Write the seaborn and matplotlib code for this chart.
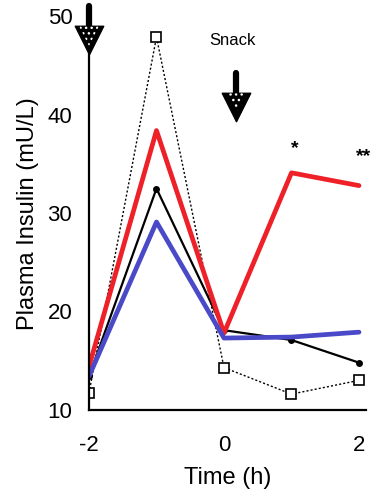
import pandas as pd
import matplotlib.pyplot as plt
import seaborn as sns

# Time points (h) and plasma insulin (mU/L)
time_h = [-2, -1, 0, 1, 2]
red_vals = [14.4, 38.4, 17.8, 34.1, 32.8]
blue_vals = [13.4, 29.1, 17.3, 17.4, 17.9]
black_vals = [13.4, 32.5, 18.1, 17.1, 14.8]
dotted_vals = [11.7, 47.9, 14.3, 11.6, 13.0]

# Annotations
arrow_x = [-2, 0.18]
arrow_top = [51.1, 44.2]
arrow_head = [47.6, 40.8]
star_x = [1.05, 2.07]
star_y = [36.6, 35.8]
star_labels = ["*", "**"]

sns.set_style("white")
plt.rcParams["font.family"] = ["Liberation Sans", "DejaVu Sans"]
plt.rcParams["axes.unicode_minus"] = False
plt.rcParams["text.color"] = "black"
plt.rcParams["axes.labelcolor"] = "black"
plt.rcParams["xtick.color"] = "black"
plt.rcParams["ytick.color"] = "black"

fig = plt.figure(figsize=(3.92, 4.98), dpi=100)
ax = fig.add_axes([0.227, 0.177, 0.706, 0.79])

df = pd.DataFrame({"Time": time_h, "red": red_vals, "blue": blue_vals,
                   "black": black_vals, "dotted": dotted_vals})

sns.lineplot(data=df, x="Time", y="dotted", ax=ax, color="black", lw=1.0,
             linestyle=(0, (1.5, 1.5)), marker="s", markersize=7,
             markerfacecolor="white", markeredgecolor="black", markeredgewidth=1.2)
sns.lineplot(data=df, x="Time", y="black", ax=ax, color="black", lw=1.6,
             marker="o", markersize=5, markeredgewidth=0)
sns.lineplot(data=df, x="Time", y="red", ax=ax, color="#ee2028", lw=3.4)
sns.lineplot(data=df, x="Time", y="blue", ax=ax, color="#4a4ac8", lw=3.4)

# Arrows (shaft + dotted head)
for x, top, head in zip(arrow_x, arrow_top, arrow_head):
    ax.plot([x, x], [top, head], color="black", lw=4.5, solid_capstyle="round",
            clip_on=False, zorder=5)
    ax.scatter([x], [head], marker="v", s=420, color="black", clip_on=False, zorder=6)
    ax.scatter([x], [head + 0.4], marker="v", s=200, facecolor="none",
               edgecolor="white", linewidth=0, hatch="...", clip_on=False, zorder=7)

ax.text(0.12, 47.6, "Snack", fontsize=12, ha="center", va="center")
for x, y, s in zip(star_x, star_y, star_labels):
    ax.text(x, y, s, fontsize=14, fontweight="bold", ha="center", va="center")

ax.set_xlim(-2, 2.1)
ax.set_ylim(10, 50)
ax.set_xticks([-2, 0, 2])
ax.set_yticks([10, 20, 30, 40, 50])
ax.tick_params(axis="both", length=0, labelsize=16)
ax.tick_params(axis="y", pad=12)
ax.tick_params(axis="x", pad=18)
ax.set_xlabel("Time (h)", fontsize=17, labelpad=8)
ax.set_ylabel("Plasma Insulin (mU/L)", fontsize=17, labelpad=6)
for side in ["top", "right"]:
    ax.spines[side].set_visible(False)
for side in ["left", "bottom"]:
    ax.spines[side].set_linewidth(1.6)
    ax.spines[side].set_color("black")

fig.savefig("out.png", dpi=100)
